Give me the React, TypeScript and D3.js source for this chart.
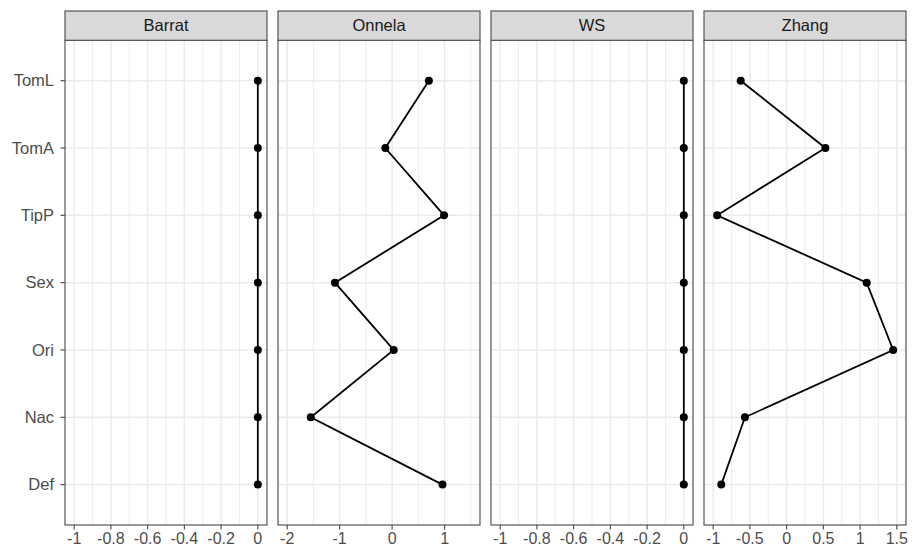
import React from 'react';
import * as d3 from 'd3';

const CATEGORIES = ['TomL', 'TomA', 'TipP', 'Sex', 'Ori', 'Nac', 'Def'];
const PANELS = ['Barrat', 'Onnela', 'WS', 'Zhang'];

const BARRAT = [0, 0, 0, 0, 0, 0, 0];
const ONNELA = [0.7, -0.13, 0.99, -1.09, 0.03, -1.55, 0.96];
const WS = [0, 0, 0, 0, 0, 0, 0];
const ZHANG = [-0.625, 0.527, -0.946, 1.09, 1.45, -0.568, -0.89];

// axis limits per facet (before ggplot's 5% expansion)
const X_LIMITS = [[-1, 0], [-2, 1.5], [-1, 0], [-1, 1.5]];
const MAJOR_TICKS = [
  [-1, -0.8, -0.6, -0.4, -0.2, 0],
  [-2, -1, 0, 1],
  [-1, -0.8, -0.6, -0.4, -0.2, 0],
  [-1, -0.5, 0, 0.5, 1, 1.5],
];
const TICK_LABELS = [
  ['-1', '-0.8', '-0.6', '-0.4', '-0.2', '0'],
  ['-2', '-1', '0', '1'],
  ['-1', '-0.8', '-0.6', '-0.4', '-0.2', '0'],
  ['-1', '-0.5', '0', '0.5', '1', '1.5'],
];
const MINOR_TICKS = [
  [-0.9, -0.7, -0.5, -0.3, -0.1],
  [-1.5, -0.5, 0.5, 1.5],
  [-0.9, -0.7, -0.5, -0.3, -0.1],
  [-0.75, -0.25, 0.25, 0.75, 1.25],
];

const SERIES = [BARRAT, ONNELA, WS, ZHANG];

export default function App() {
  const W = 912, H = 547;
  const left = 65, right = 906, gap = 11;
  const stripTop = 11, top = 40.3, bottom = 525;
  const pw = (right - left - gap * (PANELS.length - 1)) / PANELS.length;
  const font = '"Liberation Sans", Arial, sans-serif';

  const y = d3.scalePoint<string>().domain(CATEGORIES).range([top, bottom]).padding(0.6);

  return (
    <div style={{ position: 'absolute', left: 0, top: 0 }}>
      <svg width={W} height={H} style={{ display: 'block', background: '#fff' }}>
        {/* y axis */}
        {CATEGORIES.map(c => (
          <g key={c}>
            <line x1={left - 4.5} x2={left} y1={y(c)} y2={y(c)} stroke="#444" strokeWidth={1.1} />
            <text x={left - 11} y={y(c)} dy="0.35em" textAnchor="end" fontFamily={font} fontSize={16.5} fill="#4D4D4D">{c}</text>
          </g>
        ))}
        {PANELS.map((name, i) => {
          const x0 = left + i * (pw + gap);
          const [lo, hi] = X_LIMITS[i];
          const pad = (hi - lo) * 0.05;
          const x = d3.scaleLinear().domain([lo - pad, hi + pad]).range([x0, x0 + pw]);
          const vals = SERIES[i];
          const line = d3.line<number>().x(v => x(v)).y((_, j) => y(CATEGORIES[j]) as number);
          return (
            <g key={name}>
              <rect x={x0} y={top} width={pw} height={bottom - top} fill="#fff" />
              {MINOR_TICKS[i].map(t => (
                <line key={'m' + t} x1={x(t)} x2={x(t)} y1={top} y2={bottom} stroke="#EBEBEB" strokeWidth={0.9} />
              ))}
              {MAJOR_TICKS[i].map(t => (
                <line key={'M' + t} x1={x(t)} x2={x(t)} y1={top} y2={bottom} stroke="#EBEBEB" strokeWidth={1.5} />
              ))}
              {CATEGORIES.map(c => (
                <line key={c} x1={x0} x2={x0 + pw} y1={y(c)} y2={y(c)} stroke="#EBEBEB" strokeWidth={1.5} />
              ))}
              <path d={line(vals) || ''} fill="none" stroke="#000" strokeWidth={1.8} />
              {vals.map((v, j) => (
                <circle key={j} cx={x(v)} cy={y(CATEGORIES[j])} r={4} fill="#000" />
              ))}
              <rect x={x0} y={top} width={pw} height={bottom - top} fill="none" stroke="#555" strokeWidth={1.2} />
              {/* strip */}
              <rect x={x0} y={stripTop} width={pw} height={top - stripTop} fill="#D9D9D9" stroke="#555" strokeWidth={1.2} />
              <text x={x0 + pw / 2} y={(stripTop + top) / 2} dy="0.35em" textAnchor="middle" fontFamily={font} fontSize={16.5} fill="#1A1A1A">{name}</text>
              {/* x axis */}
              {MAJOR_TICKS[i].map((t, k) => (
                <g key={'t' + t}>
                  <line x1={x(t)} x2={x(t)} y1={bottom} y2={bottom + 4.5} stroke="#444" strokeWidth={1.1} />
                  <text x={x(t)} y={bottom + 18.5} textAnchor="middle" fontFamily={font} fontSize={16} fill="#4D4D4D">{TICK_LABELS[i][k]}</text>
                </g>
              ))}
            </g>
          );
        })}
      </svg>
    </div>
  );
}
